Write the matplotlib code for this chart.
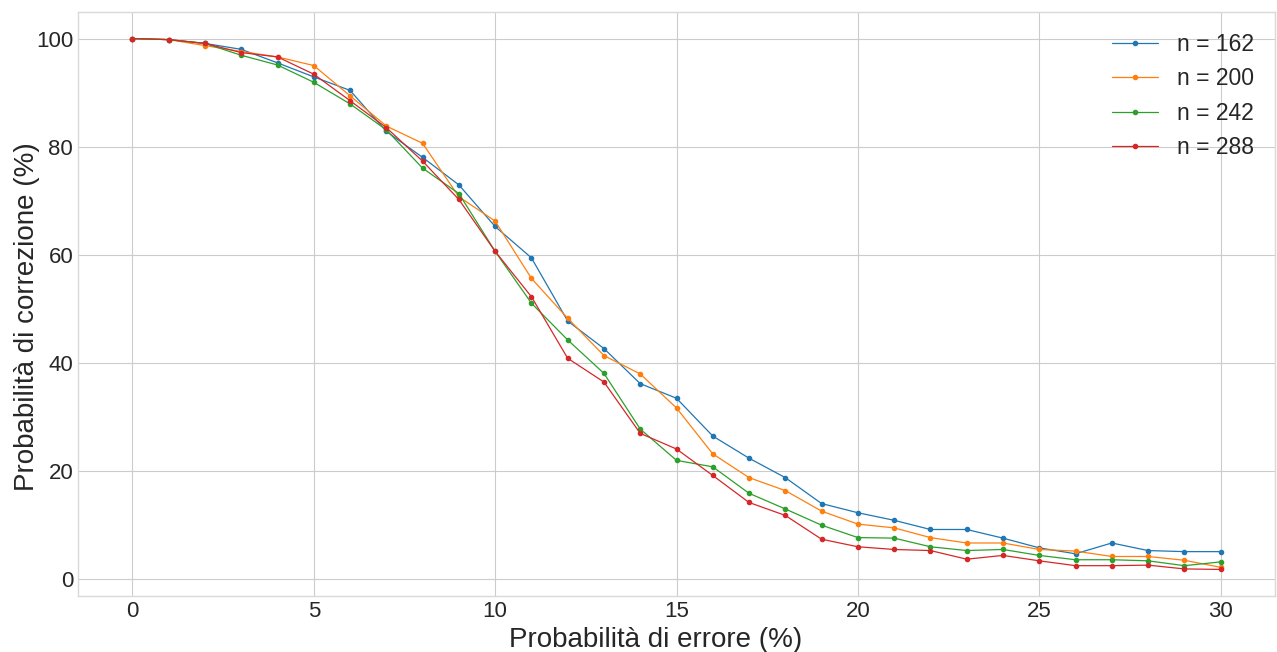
import matplotlib
matplotlib.use("Agg")
import matplotlib.pyplot as plt

x_vals = list(range(0, 31))

n162 = [100, 99.8, 99.1, 98.0, 95.5, 92.9, 90.4, 82.8, 78.0, 72.9, 65.2, 59.4, 47.7, 42.6, 36.1, 33.4,
        26.4, 22.3, 18.7, 13.9, 12.2, 10.8, 9.1, 9.1, 7.5, 5.7, 4.6, 6.6, 5.2, 5.0, 5.0]
n200 = [100, 99.8, 98.7, 97.6, 96.6, 95.0, 89.4, 83.8, 80.6, 70.7, 66.2, 55.6, 48.2, 41.3, 37.9, 31.6,
        23.1, 18.7, 16.3, 12.5, 10.1, 9.4, 7.6, 6.6, 6.6, 5.4, 5.1, 4.1, 4.1, 3.4, 2.1]
n242 = [100, 99.8, 99.1, 96.9, 95.1, 91.9, 87.9, 83.1, 76.0, 71.3, 60.6, 51.0, 44.2, 38.0, 27.7, 21.9,
        20.7, 15.8, 12.9, 9.9, 7.6, 7.5, 5.9, 5.2, 5.4, 4.3, 3.5, 3.5, 3.3, 2.4, 3.1]
n288 = [100, 99.8, 99.1, 97.4, 96.6, 93.4, 88.5, 83.5, 77.3, 70.2, 60.6, 52.2, 40.8, 36.4, 26.9, 24.0,
        19.1, 14.1, 11.7, 7.3, 5.9, 5.4, 5.2, 3.6, 4.3, 3.3, 2.4, 2.4, 2.5, 1.8, 1.7]

series = [("n = 162", n162), ("n = 200", n200), ("n = 242", n242), ("n = 288", n288)]
colors = ["#1f77b4", "#ff7f0e", "#2ca02c", "#d62728"]

plt.style.use("seaborn-v0_8-whitegrid")
plt.rcParams["font.family"] = ["Liberation Sans", "DejaVu Sans"]

fig = plt.figure(figsize=(12.77, 6.52), dpi=100)
ax = fig.add_axes([78 / 1277, 1 - 596 / 652, (1275 - 78) / 1277, (596 - 12) / 652])

for (label, vals), c in zip(series, colors):
    ax.plot(x_vals, vals, marker="o", markersize=3, linewidth=0.9, color=c, label=label)

ax.set_xlabel("Probabilità di errore (%)", fontsize=20)
ax.set_ylabel("Probabilità di correzione (%)", fontsize=20, labelpad=-3.2)
ax.xaxis.label.set_x(0.4825)
ax.yaxis.label.set_y(0.478)
ax.tick_params(labelsize=16)
ax.set_xticks([0, 5, 10, 15, 20, 25, 30])
ax.set_yticks([0, 20, 40, 60, 80, 100])
for s in ax.spines.values():
    s.set_color("#d9d9d9")
ax.legend(loc="upper right", fontsize=16.5, frameon=False, handlelength=2.0,
          handletextpad=0.85)

fig.savefig("out.png", dpi=100)
